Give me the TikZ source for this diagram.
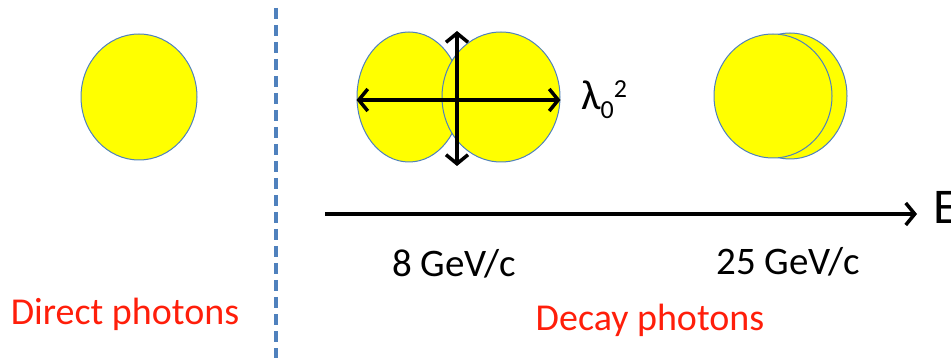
\documentclass[tikz,border=0pt]{standalone}
\usepackage{fontspec}
\setmainfont{Carlito}
\usetikzlibrary{shapes.geometric,arrows.meta}
\definecolor{photonyellow}{RGB}{255,255,0}
\definecolor{rimblue}{RGB}{79,129,189}
\definecolor{labelred}{RGB}{255,30,10}
\begin{document}
\begin{tikzpicture}[x=1pt, y=-1pt,
    photon/.style={ellipse, draw=rimblue, fill=photonyellow, line width=1pt, inner sep=0pt},
    axis/.style={line width=3.5pt, >={Straight Barb[length=9pt,width=22pt,line width=3.5pt]}},
    caption/.style={text=labelred, font=\fontsize{38}{42}\selectfont},
    energy/.style={font=\fontsize{39}{43}\selectfont}]
    \useasboundingbox (0,0) rectangle (951,358);
    % direct photon
    \node[photon, minimum width=116pt, minimum height=126pt] (direct) at (139,97) {};
    \node[caption] (directlbl) at (125,314) {Direct photons};
    % separator
    \coordinate (septop) at (276,8);
    \coordinate (sepbot) at (276,358);
    \draw[rimblue, line width=3.5pt, dash pattern=on 11pt off 6pt] (septop) -- (sepbot);
    % decay photons at 8 GeV/c
    \node[photon, minimum width=104pt, minimum height=130pt] (lowleft) at (409,97) {};
    \node[photon, minimum width=118pt, minimum height=130pt] (lowright) at (501,97) {};
    \coordinate (vtop) at (457,31);
    \coordinate (vbot) at (457,166);
    \draw[axis, <->] (lowleft.west |- 0,100) -- (lowright.east |- 0,100);
    \draw[axis, <->] (vtop) -- (vbot);
    \node[font=\fontsize{42}{46}\selectfont, anchor=west, inner sep=0pt] (lambda) at (581,100)
        {λ\raisebox{-9pt}{\fontsize{26}{28}\selectfont 0}\raisebox{12pt}{\fontsize{26}{28}\selectfont 2}};
    % decay photons at 25 GeV/c
    \node[photon, minimum width=114pt, minimum height=126pt] (highback) at (790,96) {};
    \node[photon, minimum width=118pt, minimum height=124pt] (highfront) at (773,96) {};
    % energy axis
    \coordinate (axstart) at (325,214);
    \node[font=\fontsize{50}{54}\selectfont, anchor=west, inner sep=0pt] (elabel) at (933,207) {E};
    \draw[axis, ->, shorten >=16pt] (axstart) -- (elabel.west |- axstart);
    \node[energy] (lowE) at (454,264) {8 GeV/c};
    \node[energy] (highE) at (788,262) {25 GeV/c};
    \node[caption] (decaylbl) at (650,320) {Decay photons};
\end{tikzpicture}
\end{document}
